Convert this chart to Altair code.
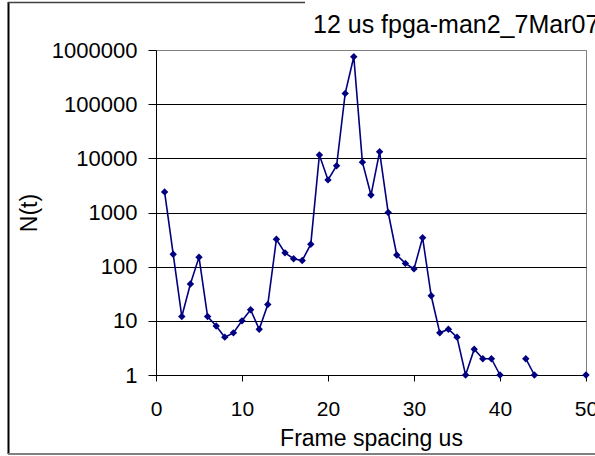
import altair as alt
import pandas as pd

# Frame spacing (us) and number of occurrences N(t)
spacing_us = list(range(1, 41)) + [43, 44, 50]
counts = [
    2400, 170, 12, 48, 150, 12, 8, 5, 6, 10,
    16, 7, 20, 320, 180, 140, 130, 260, 11500, 4000,
    7300, 158000, 750000, 8500, 2100, 13200, 1000, 164, 115, 91,
    343, 29, 6, 7, 5, 1, 3, 2, 2, 1,
    2, 1,
    1,
]
x_ticks = [0, 10, 20, 30, 40, 50]
y_ticks = [1, 10, 100, 1000, 10000, 100000, 1000000]
chart_title = "12 us fpga-man2_7Mar07"

# spacings with no counts break the line: each contiguous run is its own path
run_id = []
r = 0
for i, s in enumerate(spacing_us):
    if i > 0 and s != spacing_us[i - 1] + 1:
        r += 1
    run_id.append(r)

df = pd.DataFrame({"spacing": spacing_us, "n": counts, "run": run_id})

FONT = "Liberation Sans"
NAVY = "#000080"

x_enc = alt.X(
    "spacing:Q",
    scale=alt.Scale(domain=[0, 50], nice=False, zero=False),
    axis=alt.Axis(
        values=x_ticks, format="d", title="Frame spacing us", grid=False,
        domainColor="black", tickColor="black", tickSize=6,
        labelFont=FONT, labelFontSize=21, labelColor="black", labelPadding=17,
        titleFont=FONT, titleFontSize=23, titleFontWeight="normal",
        titleColor="black", titlePadding=8, labelFlush=False,
    ),
)
y_enc = alt.Y(
    "n:Q",
    scale=alt.Scale(type="log", domain=[1, 1000000], nice=False),
    axis=alt.Axis(
        values=y_ticks, format="d", title="N(t)", grid=True,
        gridColor={"condition": {"test": "datum.value >= 1000000", "value": "#808080"},
                   "value": "black"},
        gridWidth=1, domainColor="black", tickColor="black", tickSize=8,
        labelFont=FONT, labelFontSize=22, labelColor="black", labelPadding=11,
        titleFont=FONT, titleFontSize=23, titleFontWeight="normal",
        titleColor="black", titlePadding=10, labelFlush=False,
    ),
)

line = alt.Chart(df).mark_line(color=NAVY, strokeWidth=1.6).encode(
    x=x_enc, y=y_enc, detail="run:N"
)
points = alt.Chart(df).mark_point(
    shape="diamond", filled=True, color=NAVY, size=55, opacity=1
).encode(x="spacing:Q", y="n:Q")

one = alt.Data(values=[{"t": chart_title}])

# outer frame of the chart
frame_left = alt.Chart(one).mark_rule(color="black", strokeWidth=2).encode(
    x=alt.value(-147.5), y=alt.value(-48), y2=alt.value(404)
)
frame_bottom = alt.Chart(one).mark_rule(color="#808080", strokeWidth=2).encode(
    x=alt.value(-148), x2=alt.value(440), y=alt.value(404)
)
frame_top = alt.Chart(one).mark_rule(color="#404040", strokeWidth=1.5).encode(
    x=alt.value(-148), x2=alt.value(149), y=alt.value(-47.5)
)

title = alt.Chart(one).mark_text(
    align="left", baseline="alphabetic", font=FONT, fontSize=25, color="black"
).encode(text="t:N", x=alt.value(157), y=alt.value(-17))

chart = (
    alt.layer(frame_left, frame_bottom, frame_top, line, points, title)
    .properties(
        width=430, height=325,
        autosize=alt.AutoSizeParams(type="none"),
        padding={"left": 156, "top": 50, "right": 9, "bottom": 81},
        background="white",
    )
    .configure_view(stroke="#808080", strokeWidth=1)
)

chart.save("out.html", embed_options={"renderer": "svg", "actions": False})
